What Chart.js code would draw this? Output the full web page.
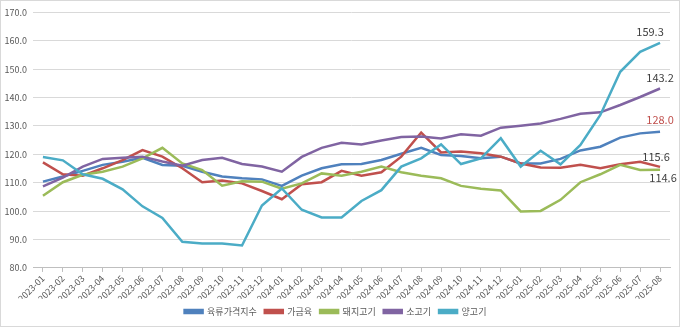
<!DOCTYPE html>
<html>
<head>
<meta charset="utf-8">
<script src="https://cdn.jsdelivr.net/npm/chart.js@4.4.1/dist/chart.umd.min.js"></script>
<style>
    html, body { margin: 0; padding: 0; background: #fff; }
    #wrap { width: 678px; height: 325px; border: 1px solid #d9d9d9; position: relative; }
</style>
</head>
<body>
<div id="wrap"><canvas id="meatChart" width="678" height="325"></canvas></div>
<script>
// Months 2023-01 .. 2025-08
const months = [
    '2023-01', '2023-02', '2023-03', '2023-04', '2023-05', '2023-06', '2023-07', '2023-08',
    '2023-09', '2023-10', '2023-11', '2023-12', '2024-01', '2024-02', '2024-03', '2024-04',
    '2024-05', '2024-06', '2024-07', '2024-08', '2024-09', '2024-10', '2024-11', '2024-12',
    '2025-01', '2025-02', '2025-03', '2025-04', '2025-05', '2025-06', '2025-07', '2025-08'
];

// 육류가격지수
const meatIndex = [
    110.4, 112.2, 114.2, 116.3, 117.4, 118.8, 116.3, 116.0, 113.9, 112.2, 111.6, 111.2,
    108.9, 112.5, 115.1, 116.5, 116.6, 118.0, 120.2, 122.3, 119.8, 119.4, 118.6, 119.2,
    116.8, 116.8, 118.4, 121.4, 122.7, 125.9, 127.4, 128.0
];

// 가금육
const poultry = [
    117.2, 113.0, 112.5, 115.1, 118.0, 121.5, 119.2, 115.1, 110.2, 110.8, 109.8, 107.1,
    104.2, 109.5, 110.2, 114.2, 112.5, 113.7, 119.2, 127.7, 120.7, 121.0, 120.4, 119.2,
    116.8, 115.4, 115.3, 116.3, 115.1, 116.5, 117.4, 115.6
];

// 돼지고기
const pork = [
    105.4, 110.2, 112.8, 113.9, 115.7, 118.6, 122.3, 116.8, 114.5, 109.0, 110.5, 110.4,
    107.9, 109.8, 113.3, 112.5, 113.9, 115.7, 113.7, 112.5, 111.6, 108.9, 107.9, 107.3,
    99.9, 100.1, 104.0, 110.2, 113.0, 116.3, 114.5, 114.6
];

// 소고기
const beef = [
    108.7, 111.8, 115.7, 118.4, 118.8, 119.2, 117.5, 116.0, 118.0, 118.8, 116.6, 115.7,
    113.9, 119.1, 122.3, 124.1, 123.5, 124.9, 126.1, 126.3, 125.6, 127.1, 126.6, 129.4,
    130.1, 130.9, 132.5, 134.3, 134.8, 137.4, 140.2, 143.2
];

// 양고기
const lamb = [
    119.1, 117.9, 113.0, 111.4, 107.7, 101.7, 97.6, 89.2, 88.6, 88.6, 87.9, 102.0,
    108.0, 100.5, 97.8, 97.8, 103.6, 107.4, 115.7, 118.6, 123.5, 116.6, 118.6, 125.7,
    115.7, 121.3, 116.5, 123.3, 133.9, 149.1, 156.1, 159.3
];

const seriesNames = ['육류가격지수', '가금육', '돼지고기', '소고기', '양고기'];
const seriesData = [meatIndex, poultry, pork, beef, lamb];

const colors = {
    blue: '#4f81bd',
    red: '#c0504d',
    green: '#9bbb59',
    purple: '#8064a2',
    cyan: '#4bacc6'
};
const lineColors = [colors.blue, colors.red, colors.green, colors.purple, colors.cyan];

// end label styling: [dx, dy, color]
const endLabelStyle = [
    [0, -12, colors.red],
    [-4, -10, '#404040'],
    [3, 8, '#404040'],
    [0, -11, '#404040'],
    [-10, -11, '#404040']
];

const fontFamily = "'Noto Sans CJK KR', 'Noto Sans', sans-serif";

// draw the last value next to the end of each line
const endLabels = {
    id: 'endLabels',
    afterDatasetsDraw(chart) {
        const c = chart.ctx;
        c.save();
        c.font = '11px ' + fontFamily;
        c.textAlign = 'center';
        c.textBaseline = 'middle';
        chart.data.datasets.forEach((ds, i) => {
            const meta = chart.getDatasetMeta(i);
            const last = meta.data[meta.data.length - 1];
            const st = endLabelStyle[i];
            c.fillStyle = st[2];
            c.fillText(ds.data[ds.data.length - 1].toFixed(1), last.x + st[0], last.y + st[1]);
        });
        c.restore();
    }
};

const datasets = seriesNames.map((name, i) => ({
    label: name,
    data: seriesData[i],
    borderColor: lineColors[i],
    backgroundColor: lineColors[i],
    borderWidth: 2.5,
    pointRadius: 0,
    tension: 0,
    order: seriesNames.length - i
}));

new Chart(document.getElementById('meatChart'), {
    type: 'line',
    data: { labels: months, datasets: datasets },
    options: {
        responsive: false,
        animation: false,
        layout: { padding: { top: 1, right: 9, bottom: 0, left: 0 } },
        plugins: {
            legend: {
                position: 'bottom',
                labels: {
                    boxWidth: 18,
                    boxHeight: 3,
                    padding: 8,
                    color: '#595959',
                    font: { family: fontFamily, size: 9 },
                    sort: (a, b) => a.datasetIndex - b.datasetIndex
                }
            },
            tooltip: { enabled: false }
        },
        scales: {
            x: {
                offset: true,
                afterFit: function(scale) { scale.height -= 6; },
                grid: {
                    drawOnChartArea: false,
                    drawTicks: true,
                    tickLength: 4,
                    color: '#bfbfbf'
                },
                border: { color: '#bfbfbf' },
                ticks: {
                    minRotation: 45,
                    maxRotation: 45,
                    autoSkip: false,
                    color: '#595959',
                    font: { family: fontFamily, size: 9 },
                    padding: 1
                }
            },
            y: {
                min: 80,
                max: 170,
                afterFit: function(scale) { scale.width = 32; },
                grid: { color: '#d9d9d9', drawTicks: false },
                border: { display: false },
                ticks: {
                    stepSize: 10,
                    padding: 6,
                    color: '#595959',
                    font: { family: fontFamily, size: 9 },
                    callback: function(value) { return value.toFixed(1); }
                }
            }
        }
    },
    plugins: [endLabels]
});
</script>
</body>
</html>
